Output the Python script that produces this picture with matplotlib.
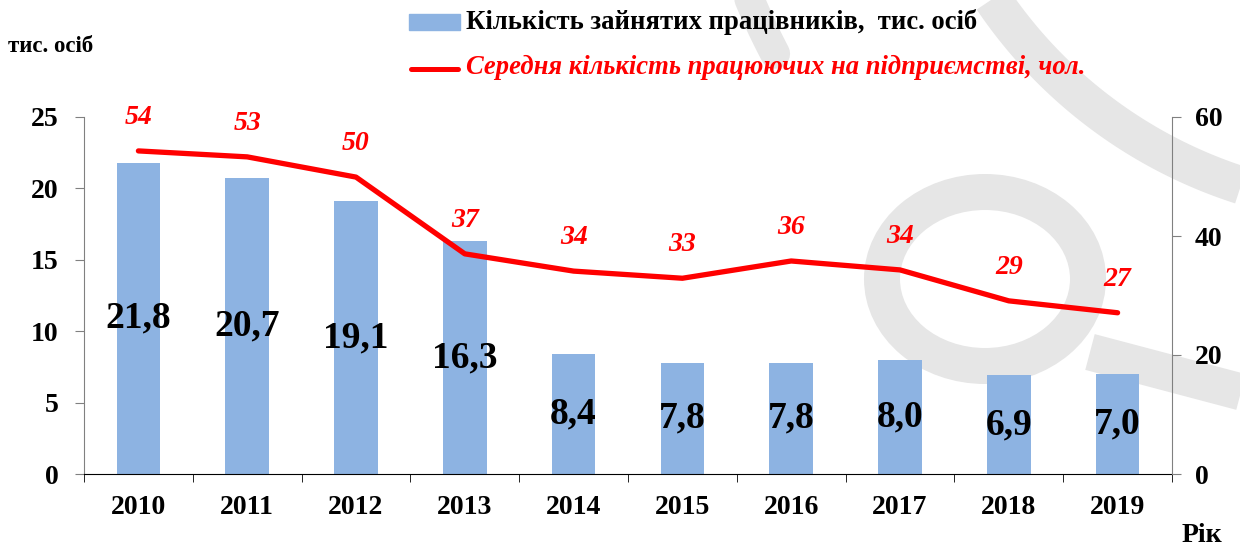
import numpy as np
import matplotlib
matplotlib.use("Agg")
import matplotlib.pyplot as plt
from matplotlib.patches import Ellipse, Rectangle

plt.rcParams['font.family'] = ['Liberation Serif', 'DejaVu Serif']

years = ['2010', '2011', '2012', '2013', '2014', '2015', '2016', '2017', '2018', '2019']
employed = [21.8, 20.7, 19.1, 16.3, 8.4, 7.8, 7.8, 8.0, 6.9, 7.0]
avg_staff = [54.3, 53.3, 49.9, 37.0, 34.1, 32.9, 35.8, 34.3, 29.1, 27.1]
avg_labels = ['54', '53', '50', '37', '34', '33', '36', '34', '29', '27']

bar_color = '#8DB3E2'
wm = '#e6e6e6'
W, H = 1240, 549

fig = plt.figure(figsize=(W / 100, H / 100), dpi=100)

# background watermark, drawn in pixel coordinates
bg = fig.add_axes([0, 0, 1, 1], zorder=0)
bg.set_xlim(0, W)
bg.set_ylim(H, 0)
bg.axis('off')
bg.add_patch(Ellipse((985, 279), 206, 174, fill=False, ec=wm, lw=36 * 0.72))
bg.plot([1090, 1245], [352, 393], color=wm, lw=37 * 0.72, solid_capstyle='butt')


def arc(cx, cy, r, t1, t2, lw, cap):
    t = np.radians(np.linspace(t1, t2, 100))
    bg.plot(cx + r * np.cos(t), cy + r * np.sin(t), color=wm, lw=lw * 0.72, solid_capstyle=cap)


arc(1386, -267, 475, 90, 160, 38, 'butt')
arc(1386, -267, 690, 152.3, 160, 30, 'round')

# legend
bg.add_patch(Rectangle((409, 14), 51, 16, color=bar_color))
bg.plot([411, 458], [69, 69], color='red', lw=3.6, solid_capstyle='round')
bg.text(466, 22, 'Кількість зайнятих працівників,  тис. осіб', fontsize=19.2,
        fontweight='bold', va='center', ha='left')
bg.text(466, 67, 'Середня кількість працюючих на підприємстві, чол.', fontsize=19.2,
        fontweight='bold', style='italic', color='red', va='center', ha='left')
bg.text(8, 47, 'тис. осіб', fontsize=16.5, fontweight='bold', va='center', ha='left')
bg.text(1222, 535, 'Рік', fontsize=20, fontweight='bold', va='center', ha='right')

# main chart
ax = fig.add_axes([84 / W, 75 / H, 1088 / W, 357 / H], zorder=1)
ax.patch.set_alpha(0)
x = np.arange(len(years))
ax.bar(x, employed, width=0.4, color=bar_color, zorder=2)
for xi, v in zip(x, employed):
    ax.text(xi, v / 2, f'{v:.1f}'.replace('.', ','), ha='center', va='center',
            fontsize=27, fontweight='bold', zorder=3)

ax.set_xlim(-0.5, len(years) - 0.5)
ax.set_ylim(0, 25)
ax.set_yticks(range(0, 26, 5))
ax.set_xticks(x)
ax.set_xticklabels(years)
ax.set_xticks(np.arange(-0.5, len(years), 1), minor=True)
ax.tick_params(axis='x', which='major', length=0, pad=15, labelsize=20)
ax.tick_params(axis='x', which='minor', length=6, direction='out', color='black')
ax.tick_params(axis='y', length=6.5, direction='out', color='#808080', pad=12, labelsize=20)
for lab in ax.get_xticklabels() + ax.get_yticklabels():
    lab.set_fontweight('bold')
ax.spines['top'].set_visible(False)
ax.spines['right'].set_visible(False)
ax.spines['left'].set_color('#808080')
ax.spines['bottom'].set_color('black')

ax2 = ax.twinx()
ax2.plot(x, avg_staff, color='red', lw=3.8, solid_capstyle='round', solid_joinstyle='round', zorder=4)
for xi, v, t in zip(x, avg_staff, avg_labels):
    ax2.annotate(t, (xi, v), xytext=(0, 24), textcoords='offset points', ha='center', va='center',
                 color='red', fontsize=20, fontweight='bold', style='italic')
ax2.set_ylim(0, 60)
ax2.set_yticks([0, 20, 40, 60])
ax2.tick_params(axis='y', length=6.5, direction='out', color='#808080', pad=10, labelsize=20)
for lab in ax2.get_yticklabels():
    lab.set_fontweight('bold')
for s in ['top', 'left', 'bottom']:
    ax2.spines[s].set_visible(False)
ax2.spines['right'].set_color('#808080')

fig.savefig('out.png', dpi=100)
